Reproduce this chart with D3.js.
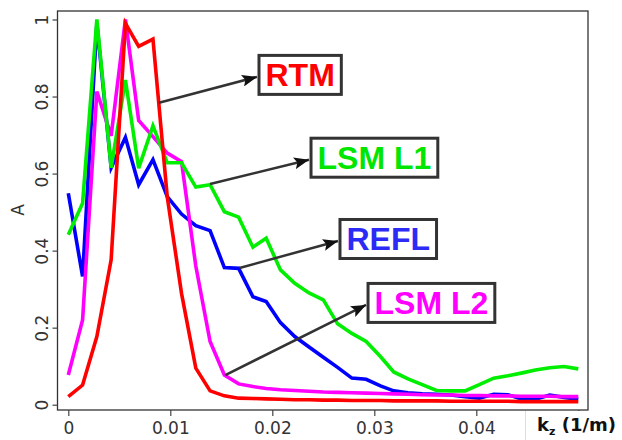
<!DOCTYPE html>
<html>
<head>
<meta charset="utf-8">
<script src="https://cdn.jsdelivr.net/npm/d3@7"></script>
<style>
  body { margin: 0; background: #fff; }
  svg { display: block; }
</style>
</head>
<body>
<script>
// svg size
var w = 622;
var h = 440;

// plot frame and data ranges (pixels)
var box = {left: 57.5, right: 588, top: 11, bottom: 410};
var xRange = [68.3, 578.3];
var yRange = [404.7, 19.5];

// wavenumber samples
var kz = [0, 0.0014, 0.0028, 0.0042, 0.0056, 0.0069, 0.0083, 0.0097, 0.0111, 0.0125,
          0.0139, 0.0153, 0.0167, 0.0181, 0.0194, 0.0208, 0.0222, 0.0236, 0.025, 0.0264,
          0.0278, 0.0292, 0.0306, 0.0319, 0.0333, 0.0347, 0.0361, 0.0375, 0.0389, 0.0403,
          0.0417, 0.0431, 0.0444, 0.0458, 0.0472, 0.0486, 0.05];

// amplitude spectra
var refl = [0.549, 0.333, 0.99, 0.615, 0.694, 0.571, 0.636, 0.54, 0.495, 0.465,
            0.452, 0.356, 0.354, 0.28, 0.268, 0.213, 0.177, 0.15, 0.123, 0.097,
            0.069, 0.066, 0.049, 0.036, 0.031, 0.028, 0.027, 0.025, 0.021, 0.017,
            0.027, 0.026, 0.015, 0.014, 0.025, 0.019, 0.014];

var lsm2 = [0.077, 0.22, 0.813, 0.698, 1.0, 0.738, 0.696, 0.653, 0.631, 0.36,
            0.164, 0.077, 0.054, 0.047, 0.042, 0.039, 0.037, 0.035, 0.033, 0.032,
            0.031, 0.030, 0.029, 0.028, 0.027, 0.026, 0.025, 0.025, 0.024, 0.024,
            0.023, 0.023, 0.022, 0.022, 0.022, 0.021, 0.021];

var lsm1 = [0.441, 0.523, 1.0, 0.615, 0.843, 0.614, 0.724, 0.628, 0.628, 0.565,
            0.571, 0.501, 0.487, 0.409, 0.432, 0.35, 0.315, 0.29, 0.272, 0.21,
            0.185, 0.164, 0.125, 0.085, 0.067, 0.052, 0.037, 0.036, 0.036, 0.052,
            0.069, 0.075, 0.082, 0.09, 0.096, 0.099, 0.093];

var rtm = [0.021, 0.051, 0.177, 0.376, 0.99, 0.93, 0.949, 0.54, 0.289, 0.095,
           0.036, 0.023, 0.017, 0.016, 0.015, 0.014, 0.013, 0.013, 0.012, 0.012,
           0.011, 0.011, 0.011, 0.010, 0.010, 0.010, 0.010, 0.009, 0.009, 0.009,
           0.009, 0.009, 0.008, 0.008, 0.008, 0.008, 0.008];

// tick values
var xTicks = [0, 0.01, 0.02, 0.03, 0.04, 0.05];
var xTickLabels = ["0", "0.01", "0.02", "0.03", "0.04", ""];
var yTicks = [0, 0.2, 0.4, 0.6, 0.8, 1];
var yTickLabels = ["0", "0.2", "0.4", "0.6", "0.8", "1"];

// callout labels: name, colour, arrow tail and arrow tip in data units
var labelNames = ["RTM", "LSM L1", "REFL", "LSM L2"];
var labelColors = ["#ff0000", "#00e600", "#2b2bf5", "#ff00ff"];
var labelTails = [[0.00889, 0.784], [0.0139, 0.573], [0.01678, 0.355], [0.01539, 0.077]];
var labelTips = [[0.0185, 0.851], [0.0236, 0.636], [0.02644, 0.425], [0.02919, 0.259]];

var svg = d3.select("body")
            .append("svg")
            .attr("width", w)
            .attr("height", h);

var x = d3.scaleLinear().domain([0, 0.05]).range(xRange);
var y = d3.scaleLinear().domain([0, 1]).range(yRange);

// arrow head
svg.append("defs").append("marker")
   .attr("id", "head")
   .attr("markerUnits", "userSpaceOnUse")
   .attr("markerWidth", 16)
   .attr("markerHeight", 12)
   .attr("refX", 15)
   .attr("refY", 6)
   .attr("orient", "auto")
   .append("path")
   .attr("d", "M0,0 L15,6 L0,12 L3,6 z")
   .attr("fill", "#111");

// frame
svg.append("rect")
   .attr("x", box.left)
   .attr("y", box.top)
   .attr("width", box.right - box.left)
   .attr("height", box.bottom - box.top)
   .attr("fill", "none")
   .attr("stroke", "#333")
   .attr("stroke-width", 1.3);

// x axis
var xAxis = svg.append("g")
   .attr("transform", "translate(0," + box.bottom + ")")
   .call(d3.axisBottom(x).tickValues(xTicks).tickSize(6)
           .tickFormat(function(d, i) { return xTickLabels[i]; }));
xAxis.select(".domain").remove();
xAxis.selectAll("line").attr("stroke", "#444").attr("stroke-width", 1.2);
xAxis.selectAll("text")
     .attr("y", 24)
     .attr("dy", null)
     .attr("fill", "#333")
     .style("font-family", "DejaVu Sans")
     .style("font-size", "17px");

// y axis
var yAxis = svg.append("g")
   .attr("transform", "translate(" + box.left + ",0)")
   .call(d3.axisLeft(y).tickValues(yTicks).tickSize(5)
           .tickFormat(function(d, i) { return yTickLabels[i]; }));
yAxis.select(".domain").remove();
yAxis.selectAll("line").attr("stroke", "#444").attr("stroke-width", 1.2);
yAxis.selectAll("text")
     .attr("transform", "rotate(-90)")
     .attr("x", 0)
     .attr("y", -9.5)
     .attr("dy", null)
     .attr("text-anchor", "middle")
     .attr("fill", "#333")
     .style("font-family", "DejaVu Sans")
     .style("font-size", "17px");

// y title
svg.append("text")
   .attr("transform", "translate(24,210) rotate(-90)")
   .attr("text-anchor", "middle")
   .attr("fill", "#333")
   .style("font-family", "DejaVu Sans")
   .style("font-size", "17px")
   .text("A");

// lines
var line = d3.line()
             .x(function(d, i) { return x(kz[i]); })
             .y(function(d) { return y(d); });

var series = [[refl, "#0000ff"], [lsm2, "#ff00ff"], [lsm1, "#00ee00"], [rtm, "#ff0000"]];
series.forEach(function(s) {
  svg.append("path")
     .datum(s[0])
     .attr("fill", "none")
     .attr("stroke", s[1])
     .attr("stroke-width", 3.6)
     .attr("stroke-linejoin", "miter")
     .attr("d", line);
});

// callouts
labelNames.forEach(function(name, i) {
  var tail = labelTails[i];
  var tip = labelTips[i];

  svg.append("line")
     .attr("x1", x(tail[0]))
     .attr("y1", y(tail[1]))
     .attr("x2", x(tip[0]))
     .attr("y2", y(tip[1]))
     .attr("stroke", "#333")
     .attr("stroke-width", 2.5)
     .attr("marker-end", "url(#head)");

  var g = svg.append("g");
  var bx = x(tip[0]) + 2;
  var cy = y(tip[1]) - 2;
  var rect = g.append("rect");
  var txt = g.append("text")
     .attr("x", bx + 6.5)
     .attr("y", cy + 11.5)
     .attr("fill", labelColors[i])
     .style("font-family", "Liberation Sans, Arial, sans-serif")
     .style("font-weight", "bold")
     .style("font-size", "32px")
     .text(name);
  var tw = txt.node().getComputedTextLength();
  rect.attr("x", bx)
      .attr("y", cy - 19.5)
      .attr("width", tw + 13)
      .attr("height", 39)
      .attr("fill", "#fff")
      .attr("stroke", "#333")
      .attr("stroke-width", 3);
});

// x title over a white patch
svg.append("rect")
   .attr("x", 525)
   .attr("y", box.bottom + 1)
   .attr("width", w - 525)
   .attr("height", h - box.bottom - 1)
   .attr("fill", "#fff");
svg.append("line")
   .attr("x1", 525.5).attr("x2", 525.5)
   .attr("y1", box.bottom + 1).attr("y2", h)
   .attr("stroke", "#ddd");

var xt = svg.append("text")
   .attr("x", 537)
   .attr("y", 431)
   .attr("fill", "#111")
   .style("font-family", "DejaVu Sans")
   .style("font-weight", "bold")
   .style("font-size", "18px");
xt.append("tspan").text("k");
xt.append("tspan").attr("dy", 4).style("font-size", "11px").text("z");
xt.append("tspan").attr("dy", -4).text(" (1/m)");
</script>
</body>
</html>
